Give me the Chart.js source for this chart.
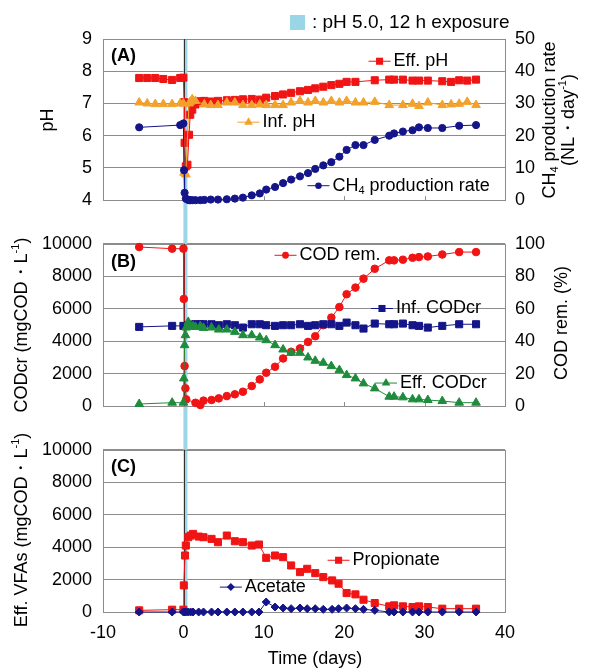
<!DOCTYPE html>
<html>
<head>
<meta charset="utf-8">
<script src="https://cdn.jsdelivr.net/npm/chart.js@4.4.1/dist/chart.umd.min.js"></script>
<style>
html, body { margin: 0; padding: 0; background: #fff; }
#wrap { position: relative; width: 589px; height: 669px; overflow: hidden; background: #fff; }
canvas { position: absolute; left: 0; }
</style>
</head>
<body>
<div id="wrap">
  <canvas id="pA" style="top:0px" width="589" height="222"></canvas>
  <canvas id="pB" style="top:222px" width="589" height="206"></canvas>
  <canvas id="pC" style="top:428px" width="589" height="241"></canvas>
</div>
<script>
// ---- data ----
// (A) pH and CH4 production
const dayA = [-5.5, -4.5, -3.5, -2.5, -1.4, -0.4,
  0, 0.08, 0.15, 0.3, 0.5, 0.7, 0.85,
  1.1, 1.5, 2.1, 2.6, 3.4, 4.3, 5.4, 6.4, 7.4, 8.5, 9.5,
  10.3, 11.4, 12.4, 13.4, 14.5, 15.5, 16.4, 17.4, 18.4, 19.4,
  20.3, 21.4, 22.4, 23.8, 25.6, 26.2, 27.3, 28.5, 29.3, 30.4,
  32.2, 33.3, 34.3, 35.3, 36.4];
const effPH = [7.79, 7.79, 7.79, 7.76, 7.73, 7.79,
  7.80, 7.04, 5.78, 5.05, 5.10, 6.03, 6.65,
  6.81, 6.97, 7.07, 7.08, 7.06, 7.08, 7.10, 7.11, 7.13, 7.14, 7.12,
  7.18, 7.23, 7.28, 7.33, 7.38, 7.42, 7.47, 7.52, 7.57, 7.61,
  7.67, 7.67, null, 7.72, 7.74, 7.74, 7.74, 7.71, 7.71, 7.71,
  7.69, 7.67, 7.72, 7.71, 7.74];
const infPH = [7.03, 7.00, 6.98, 6.98, 6.98, 7.00,
  7.00, 4.85, null, 4.80, null, 7.00, 7.05,
  7.13, 7.08, null, 6.97, 6.95, 6.95, 7.03, 7.03, 6.95, 6.95, 6.97,
  6.95, 6.95, 6.95, 7.03, 7.08, 7.03, 7.08, 7.03, 7.08, 7.03,
  7.08, 7.03, 7.03, 7.05, 6.95, null, 6.95, 6.99, 6.92, 7.03,
  6.95, 6.97, 6.99, 7.05, 6.95];
const ch4Rate = [22.6, null, null, null, null, 23.3,
  23.8, 9.3, 2.3, 0.5, 0.2, 0, 0,
  0, 0, 0, 0.1, 0.2, 0.2, 0.3, 0.5, 0.8, 1.5, 2.1,
  3.3, 4.1, 5.3, 6.4, 7.4, 8.4, 9.7, 10.8, 11.8, 13.5,
  15.6, 17.1, 17.1, 18.7, 20.0, 20.7, 21.3, 21.7, 22.6, 22.4,
  22.4, null, 23.1, null, 23.3];

// (B) CODcr and COD removal
const dayB = [-5.5, -1.4, 0,
  0.05, 0.15, 0.25, 0.35,
  0.6, 0.9, 1.2, 1.5, 2.1, 2.5,
  3.5, 4.4, 5.4, 6.4, 7.4, 8.5, 9.5,
  10.3, 11.4, 12.4, 13.4, 14.5, 15.5, 16.4, 17.4, 18.4, 19.4,
  20.3, 21.4, 22.4, 23.8, 25.6, 26.2, 27.3, 28.5, 29.3, 30.4,
  32.2, 34.3, 36.4];
const codRem = [98, 97, 97,
  66, 24.6, 10.9, 4.1,
  null, null, null, 2.0, 0.6, 3.3,
  3.7, 4.7, 6.1, 7.2, 8.8, 12.3, 16.4,
  20.5, 24.2, 29.3, 33.4, 35.5, 39.5, 43, 49.8, 54.5, 61,
  68.9, 73, 78.5, 84.6, 89.8, 89.8, 90.2, 91.4, 91.8, 92.2,
  93.4, 94.9, 94.9];
const infCOD = [4877, 4939, 4939,
  null, null, null, null,
  4980, 5000, 5020, 5041, 5041, 5041,
  5041, 4980, 5041, 4980, 4836, 5041, 5041,
  4980, 4939, 4980, 4980, 5041, 4939, 4980, 5041, 5041, 4939,
  5143, 4980, 4775, 5082, 5041, 5041, 5082, 4980, 4939, 4836,
  4939, 5041, 5041];
const effCOD = [123, 205, 205,
  1700, 3750, 4365, 4836,
  5184, 4877, 4918, 4877, 4918, 4816,
  4836, 4713, 4713, 4570, 4365, 4365, 4221,
  4057, 3750, 3484, 3279, 3279, 2992, 2787, 2664, 2459, 2213,
  1906, 1701, 1393, 1086, 574, 574, 533, 410, 410, 369,
  307, 205, 205];

// (C) effluent VFAs
const dayC = [-5.5, -1.4, 0,
  0.05, 0.2, 0.3, 0.6, 0.9, 1.2, 1.9, 2.5,
  3.5, 4.3, 5.4, 6.4, 7.4, 8.5, 9.4,
  10.3, 11.4, 12.4, 13.4, 14.5, 15.4, 16.4, 17.4, 18.5, 19.3,
  20.3, 21.4, 22.4, 23.8, 25.6, 26.2, 27.3, 28.5, 29.3, 30.4,
  32.2, 34.3, 36.4];
const propionate = [102, 143, 143,
  1640, 3483, 4098, 4610, 4713, 4815, 4651, 4610,
  4508, 4303, 4713, 4364, 4303, 4098, 4159,
  3340, 3483, 3381, 2869, 2459, 2664, 2397, 2151, 1947, 1742,
  1168, 1086, 758, 553, 348, 410, 348, 307, 348, 307,
  205, 205, 205];
const acetate = [0, 0, 0,
  null, 0, 0, 0, 0, 0, 0, 0,
  0, 0, 0, 0, 0, 0, 0,
  615, 307, 246, 205, 246, 205, 205, 164, 164, 205,
  246, 205, 164, 102, 0, 0, 0, 0, 0, 0,
  0, 0, 0];

const xTicks = [-10, 0, 10, 20, 30, 40];
const exposure = [0, 0.5]; // days, pH 5.0 for 12 h

// ---- look ----
const FONT = '"Liberation Sans", Arial, sans-serif';
const RED = '#f01414', NAVY = '#15158a', ORANGE = '#f2a22c', GREEN = '#1e8c3c';
const BAND = '#9ad6e8', GRID = '#8c8c8c';

Chart.defaults.font.family = FONT;
Chart.defaults.font.size = 18;
Chart.defaults.color = '#000';

function series(days, vals, color, style, r, axis) {
  return {
    data: days.map((d, i) => ({x: d, y: vals[i]})),
    borderColor: color, backgroundColor: color,
    pointBackgroundColor: color, pointBorderColor: color,
    borderWidth: 1, pointBorderWidth: 1,
    pointStyle: style, pointRadius: r,
    spanGaps: true, tension: 0, clip: false,
    yAxisID: axis
  };
}

function mark(ctx, style, x, y, r, color) {
  ctx.save();
  ctx.fillStyle = color;
  ctx.beginPath();
  if (style === 'rect') {
    const s = r * Math.SQRT1_2;
    ctx.rect(x - s, y - s, 2 * s, 2 * s);
  } else if (style === 'triangle') {
    for (let k = 0; k < 3; k++) {
      const a = k * 2 * Math.PI / 3;
      const px = x + Math.sin(a) * r, py = y - Math.cos(a) * r;
      k ? ctx.lineTo(px, py) : ctx.moveTo(px, py);
    }
    ctx.closePath();
  } else if (style === 'rectRot') {
    ctx.moveTo(x, y - r); ctx.lineTo(x + r, y); ctx.lineTo(x, y + r); ctx.lineTo(x - r, y);
    ctx.closePath();
  } else {
    ctx.arc(x, y, r * 0.9, 0, Math.PI * 2);
  }
  ctx.fill();
  ctx.restore();
}

// text with sub/superscript pieces, optionally turned 90deg
function rich(ctx, segs, x, y, rot, align, size, bold) {
  ctx.save();
  ctx.translate(x, y);
  if (rot) ctx.rotate(-Math.PI / 2);
  ctx.fillStyle = '#000';
  ctx.textBaseline = 'middle';
  ctx.textAlign = 'left';
  let total = 0;
  const f = s => (bold ? 'bold ' : '') + ((s.sub || s.sup) ? Math.round(size * 0.62) : size) + 'px ' + FONT;
  segs.forEach(s => { ctx.font = f(s); s.w = ctx.measureText(s.t).width; total += s.w; });
  let cx = align === 'center' ? -total / 2 : 0;
  segs.forEach(s => {
    ctx.font = f(s);
    const dy = s.sup ? -size * 0.33 : (s.sub ? size * 0.28 : 0);
    ctx.fillText(s.t, cx, dy);
    cx += s.w;
  });
  ctx.restore();
}

const deco = {
  id: 'deco',
  beforeDatasetsDraw(chart, args, o) {
    const {ctx, chartArea: a, scales} = chart;
    const x = scales.x;
    ctx.save();
    // exposure band, running through all three panels
    const x0 = x.getPixelForValue(exposure[0]), x1 = x.getPixelForValue(exposure[1]);
    const yTop = o.band === 'top' ? a.top : 0;
    const yBot = o.band === 'bottom' ? a.bottom : chart.height;
    ctx.fillStyle = BAND;
    ctx.fillRect(x0, yTop, x1 - x0, yBot - yTop);
    // frame
    ctx.strokeStyle = GRID;
    ctx.lineWidth = 1;
    ctx.strokeRect(Math.round(a.left) + 0.5, Math.round(a.top) + 0.5,
      Math.round(a.right - a.left), Math.round(a.bottom - a.top));
    if (o.innerTicks) {
      ctx.beginPath();
      [10, 20, 30].forEach(v => {
        const px = Math.round(x.getPixelForValue(v)) + 0.5;
        ctx.moveTo(px, a.bottom); ctx.lineTo(px, a.bottom - 4);
      });
      ctx.stroke();
    }
    // day 0 line
    ctx.strokeStyle = '#303030';
    ctx.beginPath();
    const z = Math.round(x0) + 1.5;
    ctx.moveTo(z, a.top); ctx.lineTo(z, a.bottom);
    ctx.stroke();
    ctx.restore();
  },
  afterDraw(chart, args, o) {
    const {ctx, chartArea: a, scales} = chart;
    const off = o.offset;
    rich(ctx, [{t: o.tag}], a.left + 8, a.top + o.tagDy, false, 'left', 18, true);
    (o.items || []).forEach(it => {
      const px = scales.x.getPixelForValue(it.at[0]);
      const py = scales[it.axis].getPixelForValue(it.at[1]);
      ctx.save();
      ctx.strokeStyle = it.color; ctx.lineWidth = 1;
      ctx.beginPath(); ctx.moveTo(px - 11, py); ctx.lineTo(px + 11, py); ctx.stroke();
      ctx.restore();
      mark(ctx, it.style, px, py, it.r, it.color);
      rich(ctx, it.segs, px + 14, py, false, 'left', 18);
    });
    (o.titles || []).forEach(t => rich(ctx, t.segs, t.x, t.y - off, t.rot, 'center', 18));
    if (o.key) {
      ctx.save();
      ctx.fillStyle = BAND;
      ctx.fillRect(290, 15, 15, 15);
      ctx.restore();
      rich(ctx, [{t: ': pH 5.0, 12 h exposure'}], 312, 22.5, false, 'left', 19);
    }
  }
};

function makeChart(id, c) {
  const scales = {
    x: {
      type: 'linear', min: -10, max: 40,
      afterBuildTicks: s => { s.ticks = xTicks.map(v => ({value: v})); },
      ticks: {display: !!c.xLabels, padding: 10, maxRotation: 0, autoSkip: false, color: '#000'},
      grid: {display: false, drawTicks: false},
      border: {display: false},
      afterFit: s => { s.height = c.xHeight; }
    },
    y: {
      position: 'left', min: c.y[0], max: c.y[1],
      ticks: {stepSize: c.y[2], padding: 11, color: '#000', callback: v => String(v)},
      grid: {color: GRID, lineWidth: 1, drawTicks: false},
      border: {display: false},
      afterFit: s => { s.width = 103; }
    }
  };
  if (c.y2) {
    scales.y2 = {
      position: 'right', min: c.y2[0], max: c.y2[1],
      ticks: {stepSize: c.y2[2], padding: 10, color: '#000', callback: v => String(v)},
      grid: {drawOnChartArea: false, drawTicks: false},
      border: {display: false},
      afterFit: s => { s.width = 84; }
    };
  }
  return new Chart(document.getElementById(id), {
    type: 'line',
    data: {datasets: c.datasets},
    options: {
      responsive: false, animation: false, devicePixelRatio: 1,
      layout: {padding: {top: c.padTop, bottom: c.padBottom, left: 0, right: c.y2 ? 0 : 84}},
      plugins: {legend: {display: false}, tooltip: {enabled: false}, deco: c.deco},
      scales: scales
    },
    plugins: [deco]
  });
}

makeChart('pA', {
  padTop: 39, padBottom: 21.5, xHeight: 0,
  y: [4, 9, 1], y2: [0, 50, 10],
  datasets: [
    series(dayA, ch4Rate, NAVY, 'circle', 3.6, 'y2'),
    series(dayA, infPH, ORANGE, 'triangle', 5, 'y'),
    series(dayA, effPH, RED, 'rect', 5, 'y')
  ],
  deco: {
    offset: 0, band: 'top', innerTicks: true, tag: '(A)', tagDy: 17, key: true,
    items: [
      {segs: [{t: 'Eff. pH'}], at: [24.4, 8.31], axis: 'y', style: 'rect', r: 5, color: RED},
      {segs: [{t: 'Inf. pH'}], at: [8.1, 6.42], axis: 'y', style: 'triangle', r: 5, color: ORANGE},
      {segs: [{t: 'CH'}, {t: '4', sub: 1}, {t: ' production rate'}], at: [16.8, 4.45], axis: 'y', style: 'circle', r: 3.6, color: NAVY}
    ],
    titles: [
      {segs: [{t: 'pH'}], x: 48, y: 120, rot: true},
      {segs: [{t: 'CH'}, {t: '4', sub: 1}, {t: ' production rate'}], x: 550, y: 120, rot: true},
      {segs: [{t: '(NL\u30FBday'}, {t: '-1', sup: 1}, {t: ')'}], x: 569, y: 120, rot: true}
    ]
  }
});

makeChart('pB', {
  padTop: 21.5, padBottom: 22, xHeight: 0,
  y: [0, 10000, 2000], y2: [0, 100, 20],
  datasets: [
    series(dayB, effCOD, GREEN, 'triangle', 5, 'y'),
    series(dayB, infCOD, NAVY, 'rect', 5, 'y'),
    series(dayB, codRem, RED, 'circle', 3.8, 'y2')
  ],
  deco: {
    offset: 222, band: 'mid', innerTicks: true, tag: '(B)', tagDy: 18.5,
    items: [
      {segs: [{t: 'COD rem.'}], at: [12.7, 9292], axis: 'y', style: 'circle', r: 3.8, color: RED},
      {segs: [{t: 'Inf. CODcr'}], at: [24.7, 6012], axis: 'y', style: 'rect', r: 5, color: NAVY},
      {segs: [{t: 'Eff. CODcr'}], at: [25.2, 1415], axis: 'y', style: 'triangle', r: 5, color: GREEN}
    ],
    titles: [
      {segs: [{t: 'CODcr (mgCOD\u30FBL'}, {t: '-1', sup: 1}, {t: ')'}], x: 22, y: 325, rot: true},
      {segs: [{t: 'COD rem. (%)'}], x: 562, y: 323, rot: true}
    ]
  }
});

makeChart('pC', {
  padTop: 21, padBottom: 0, xHeight: 57, xLabels: true,
  y: [0, 10000, 2000],
  datasets: [
    series(dayC, acetate, NAVY, 'rectRot', 4, 'y'),
    series(dayC, propionate, RED, 'rect', 5, 'y')
  ],
  deco: {
    offset: 428, band: 'bottom', innerTicks: false, tag: '(C)', tagDy: 17,
    items: [
      {segs: [{t: 'Propionate'}], at: [19.3, 3190], axis: 'y', style: 'rect', r: 5, color: RED},
      {segs: [{t: 'Acetate'}], at: [5.9, 1534], axis: 'y', style: 'rectRot', r: 4, color: NAVY}
    ],
    titles: [
      {segs: [{t: 'Eff. VFAs (mgCOD\u30FBL'}, {t: '-1', sup: 1}, {t: ')'}], x: 22, y: 530, rot: true},
      {segs: [{t: 'Time (days)'}], x: 315, y: 659, rot: false}
    ]
  }
});
</script>
</body>
</html>
